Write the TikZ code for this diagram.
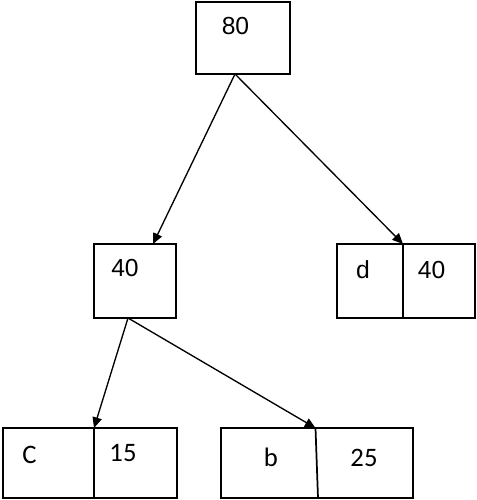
\documentclass[tikz,border=0pt]{standalone}
\usepackage{fontspec}
\setmainfont{Liberation Sans}
\newfontfamily\leaffont{Carlito}
\usetikzlibrary{arrows.meta}

\begin{document}
\begin{tikzpicture}[x=0.75pt,y=-0.75pt,line join=miter,
  box/.style={draw,line width=1.3pt,inner sep=0pt},
  num/.style={font=\fontsize{18.5}{20}\selectfont,inner sep=0pt},
  leafnum/.style={font=\leaffont\fontsize{20}{22}\selectfont,inner sep=0pt},
  edge/.style={-{Triangle[length=8pt,width=7pt]},line width=1pt}]

  \useasboundingbox (0,0) rectangle (477,500);

  % ---- boxes ----
  % root
  \node[box,minimum width=70.5pt,minimum height=54pt] (root) at (243,38) {};
  \node[num] (rootval) at (235.5,26.5) {80};
  % inner node
  \node[box,minimum width=61.5pt,minimum height=55.5pt] (mid) at (135,281) {};
  \node[num] (midval) at (125,268.5) {40};
  % leaf d
  \node[box,minimum width=103.5pt,minimum height=55.5pt] (dbox) at (406,281) {};
  \draw[line width=1.3pt] (403,244) -- (403,318);
  \node[num] (dname) at (363,269.5) {d};
  \node[num] (dval) at (431.5,270) {40};
  % leaf C
  \node[box,minimum width=130.5pt,minimum height=53pt] (cbox) at (90,463) {};
  \draw[line width=1.3pt] (94,428) -- (94,498);
  \node[leafnum] (cname) at (29.5,454.5) {C};
  \node[leafnum] (cval) at (123,453) {15};
  % leaf b
  \node[box,minimum width=144pt,minimum height=53pt] (bbox) at (317,463) {};
  \draw[line width=1.3pt] (315.5,428) -- (318,498);
  \node[leafnum] (bname) at (271,457.5) {b};
  \node[leafnum] (bval) at (364,458) {25};

  % ---- connectors ----
  \coordinate (rootout) at (235,74);
  \coordinate (midin) at (153,244);
  \coordinate (midout) at (128,318);
  \coordinate (ddiv) at (403,244);
  \coordinate (cdiv) at (94,428);
  \coordinate (bdiv) at (315.5,428);
  \draw[edge] (rootout) -- (midin);
  \draw[edge] (rootout) -- (ddiv);
  \draw[edge] (midout) -- (cdiv);
  \draw[edge] (midout) -- (bdiv);
\end{tikzpicture}
\end{document}
